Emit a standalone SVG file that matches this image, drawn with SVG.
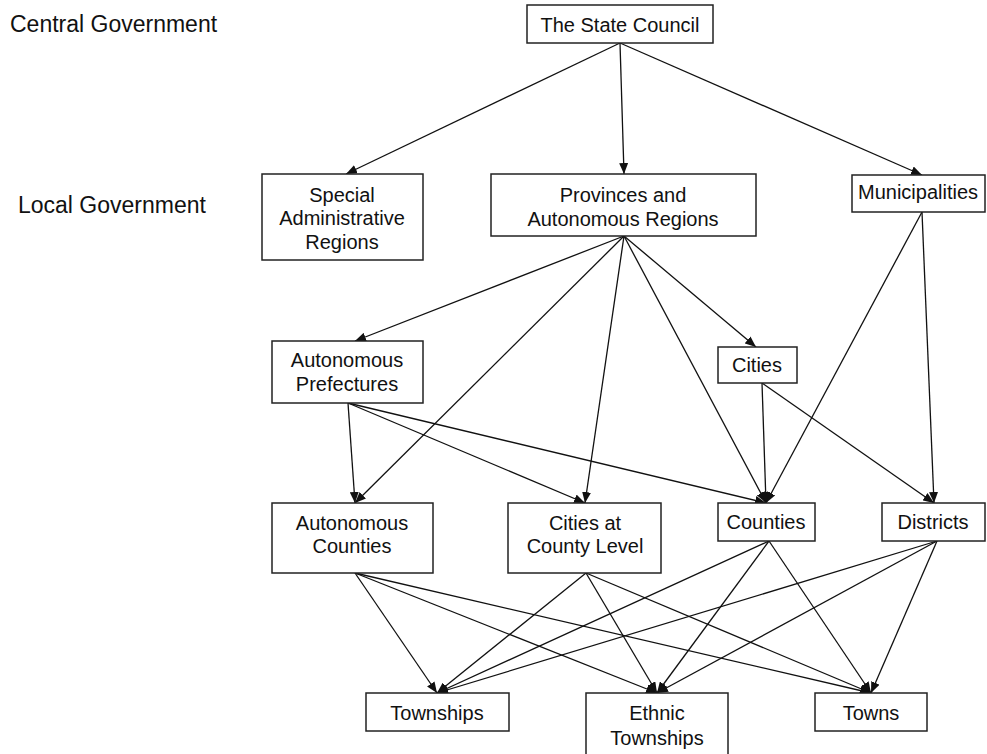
<svg xmlns="http://www.w3.org/2000/svg" width="987" height="754" viewBox="0 0 987 754">
<style>
.box{fill:#fff;stroke:#222;stroke-width:1.5}
.t{font-family:"Liberation Sans",Arial,sans-serif;font-size:20px;fill:#111;text-anchor:middle}
.lbl{font-family:"Liberation Sans",Arial,sans-serif;font-size:23px;fill:#111}
.c line{stroke:#111;stroke-width:1.3;marker-end:url(#ah)}
</style>
<defs>
<marker id="ah" markerUnits="userSpaceOnUse" markerWidth="12" markerHeight="9" refX="11" refY="4.5" orient="auto">
<path d="M0,0 L11,4.5 L0,9 z" fill="#111"/>
</marker>
</defs>
<rect width="987" height="754" fill="#fff"/>
<text class="lbl" x="10" y="32">Central Government</text>
<text class="lbl" x="18" y="213">Local Government</text>
<g class="c" id="connectors">
<line x1="620" y1="43" x2="346" y2="174"/>
<line x1="620" y1="43" x2="624" y2="174"/>
<line x1="620" y1="43" x2="922" y2="175"/>
<line x1="624" y1="236" x2="355" y2="341"/>
<line x1="624" y1="236" x2="355" y2="503"/>
<line x1="624" y1="236" x2="585" y2="503"/>
<line x1="624" y1="236" x2="766" y2="503"/>
<line x1="624" y1="236" x2="756" y2="347"/>
<line x1="922" y1="212" x2="766" y2="503"/>
<line x1="922" y1="212" x2="934" y2="503"/>
<line x1="348" y1="403" x2="355" y2="503"/>
<line x1="348" y1="403" x2="585" y2="503"/>
<line x1="348" y1="403" x2="766" y2="503"/>
<line x1="762" y1="383" x2="766" y2="503"/>
<line x1="762" y1="383" x2="934" y2="503"/>
<line x1="355" y1="573" x2="437" y2="693"/>
<line x1="355" y1="573" x2="657" y2="693"/>
<line x1="355" y1="573" x2="871" y2="693"/>
<line x1="586" y1="573" x2="437" y2="693"/>
<line x1="586" y1="573" x2="657" y2="693"/>
<line x1="586" y1="573" x2="871" y2="693"/>
<line x1="769" y1="541" x2="437" y2="693"/>
<line x1="769" y1="541" x2="657" y2="693"/>
<line x1="769" y1="541" x2="871" y2="693"/>
<line x1="937" y1="541" x2="437" y2="693"/>
<line x1="937" y1="541" x2="657" y2="693"/>
<line x1="937" y1="541" x2="871" y2="693"/>
</g>
<g id="state-council"><rect class="box" x="527" y="5" width="186" height="38"/><text class="t" x="620" y="32">The State Council</text></g>
<g id="special-admin"><rect class="box" x="262" y="174" width="161" height="86"/><text class="t" x="342" y="202">Special</text><text class="t" x="342" y="225">Administrative</text><text class="t" x="342" y="249">Regions</text></g>
<g id="provinces"><rect class="box" x="491" y="174" width="265" height="62"/><text class="t" x="623" y="202">Provinces and</text><text class="t" x="623" y="226">Autonomous Regions</text></g>
<g id="municipalities"><rect class="box" x="852" y="175" width="133" height="37"/><text class="t" x="918" y="199">Municipalities</text></g>
<g id="aut-prefectures"><rect class="box" x="272" y="341" width="151" height="62"/><text class="t" x="347" y="367">Autonomous</text><text class="t" x="347" y="391">Prefectures</text></g>
<g id="cities"><rect class="box" x="718" y="347" width="79" height="36"/><text class="t" x="757" y="372">Cities</text></g>
<g id="aut-counties"><rect class="box" x="272" y="503" width="161" height="70"/><text class="t" x="352" y="530">Autonomous</text><text class="t" x="352" y="553">Counties</text></g>
<g id="cities-county"><rect class="box" x="508" y="503" width="153" height="70"/><text class="t" x="585" y="530">Cities at</text><text class="t" x="585" y="553">County Level</text></g>
<g id="counties"><rect class="box" x="718" y="503" width="97" height="38"/><text class="t" x="766" y="529">Counties</text></g>
<g id="districts"><rect class="box" x="882" y="503" width="103" height="38"/><text class="t" x="933" y="529">Districts</text></g>
<g id="townships"><rect class="box" x="366" y="693" width="143" height="38"/><text class="t" x="437" y="720">Townships</text></g>
<g id="ethnic-townships"><rect class="box" x="586" y="693" width="142" height="66"/><text class="t" x="657" y="720">Ethnic</text><text class="t" x="657" y="745">Townships</text></g>
<g id="towns"><rect class="box" x="815" y="693" width="112" height="38"/><text class="t" x="871" y="720">Towns</text></g>
</svg>
